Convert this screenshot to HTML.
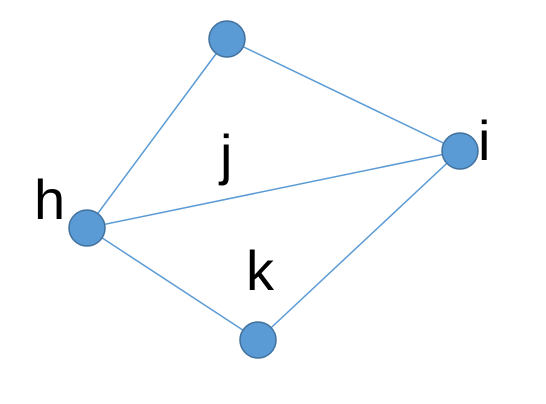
<!DOCTYPE html>
<html><head><meta charset="utf-8"><style>
html,body{margin:0;padding:0;background:#fff;}
svg{display:block;}
text{font-family:"Liberation Sans",sans-serif;fill:#000;}
</style></head><body>
<svg id="g" width="546" height="404" viewBox="0 0 546 404"></svg>
<script>
const nodeIds = ["top","i","h","bottom"];
const nodeX = [227,460,87,258];
const nodeY = [39,151,228,340];
const edgeFrom = ["h","top","h","h","bottom"];
const edgeTo = ["top","i","i","bottom","i"];
const labels = ["h","i","j","k"];
const labelX = [34,478,220,246];
const labelY = [219,160,174,290];
const svg = document.getElementById('g');
const NS = "http://www.w3.org/2000/svg";
function pos(id){const k=nodeIds.indexOf(id);return [nodeX[k],nodeY[k]];}
for(let e=0;e<edgeFrom.length;e++){
  const a=pos(edgeFrom[e]), b=pos(edgeTo[e]);
  const l=document.createElementNS(NS,'line');
  l.setAttribute('x1',a[0]);l.setAttribute('y1',a[1]);l.setAttribute('x2',b[0]);l.setAttribute('y2',b[1]);
  l.setAttribute('stroke','#5b9bd5');l.setAttribute('stroke-width','1.5');
  
  
  svg.appendChild(l);
}
for(let k=0;k<nodeIds.length;k++){
  const c=document.createElementNS(NS,'circle');
  c.setAttribute('cx',nodeX[k]);c.setAttribute('cy',nodeY[k]);c.setAttribute('r',18);
  c.setAttribute('fill','#5b9bd5');c.setAttribute('stroke','#41719c');c.setAttribute('stroke-width','1.5');
  
  
  svg.appendChild(c);
}
for(let k=0;k<labels.length;k++){
  const t=document.createElementNS(NS,'text');
  t.setAttribute('x',labelX[k]);t.setAttribute('y',labelY[k]);t.setAttribute('font-size','56');
  t.textContent=labels[k];
  
  
  svg.appendChild(t);
}
</script>
</body></html>
